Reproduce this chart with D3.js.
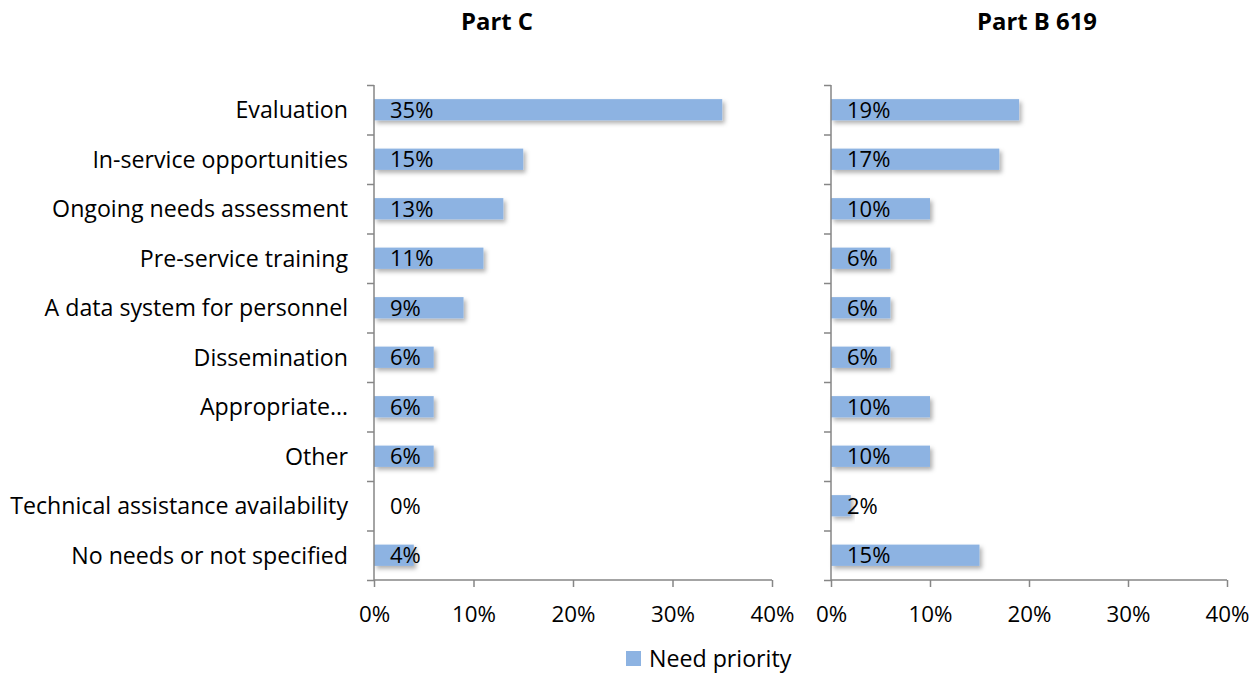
<!DOCTYPE html>
<html lang="en">
<head>
    <meta charset="UTF-8">
    <title>Need priority: Part C and Part B 619</title>
    <style>
        body { margin: 0; background: #fff; }
        svg text { font-family: "Open Sans", sans-serif; fill: #000; }
        .axis path, .axis line { stroke: #868686; stroke-width: 1.5; }
    </style>
</head>
<body>
    <div id="chart"></div>
    <script src="https://d3js.org/d3.v7.min.js"></script>
    <script>
        // categories, top to bottom
        const categories = [
            "Evaluation",
            "In-service opportunities",
            "Ongoing needs assessment",
            "Pre-service training",
            "A data system for personnel",
            "Dissemination",
            "Appropriate…",
            "Other",
            "Technical assistance availability",
            "No needs or not specified"
        ];
        // percent values
        const partC   = [35, 15, 13, 11, 9, 6, 6, 6, 0, 4];
        const partB619 = [19, 17, 10, 6, 6, 6, 10, 10, 2, 15];
        const xTicks = [0, 10, 20, 30, 40];
        const panelTitles = ["Part C", "Part B 619"];
        const legendLabel = "Need priority";

        const W = 1256, H = 673;
        const plotTop = 85, plotBottom = 580;
        const barColor = "#8db3e2";

        const svg = d3.select("#chart").append("svg")
            .attr("width", W).attr("height", H);

        // pick a font size so a sample string has the width it has in the picture
        function fitSize(sample, targetWidth, weight) {
            const t = svg.append("text").style("font-size", "20px")
                .style("font-weight", weight || "normal").text(sample);
            const w = t.node().getComputedTextLength();
            t.remove();
            return 20 * targetWidth / w;
        }
        const labelSize = fitSize("Technical assistance availability", 338);
        const valueSize = labelSize * 0.95;
        const tickSize = fitSize("40%", 44);
        const titleSize = fitSize("Part C", 72, "bold");

        svg.append("defs").append("filter")
            .attr("id", "shadow")
            .attr("x", "-10%").attr("y", "-30%")
            .attr("width", "130%").attr("height", "180%")
            .append("feDropShadow")
            .attr("dx", 2.5).attr("dy", 3)
            .attr("stdDeviation", 2.2)
            .attr("flood-color", "#000")
            .attr("flood-opacity", 0.3);

        const y = d3.scaleBand()
            .domain(categories)
            .range([plotTop, plotBottom])
            .paddingInner(0.57)
            .paddingOuter(0.285);

        // tick positions between the categories
        const yEdges = d3.scaleLinear().domain([0, categories.length]).range([plotTop, plotBottom]);

        const panels = [
            { title: panelTitles[0], values: partC, x0: 374, x1: 772, titleX: 497, labels: true },
            { title: panelTitles[1], values: partB619, x0: 831, x1: 1227, titleX: 1037, labels: false }
        ];

        panels.forEach(p => {
            const x = d3.scaleLinear().domain([0, 40]).range([p.x0, p.x1]);
            const g = svg.append("g");

            g.append("text")
                .attr("x", p.titleX).attr("y", 30)
                .attr("text-anchor", "middle")
                .style("font-size", titleSize + "px").style("font-weight", "bold")
                .text(p.title);

            // bars
            g.selectAll("rect.bar")
                .data(p.values.map((v, i) => ({ cat: categories[i], v })))
                .join("rect")
                .attr("class", "bar")
                .attr("x", x(0))
                .attr("y", d => y(d.cat))
                .attr("width", d => x(d.v) - x(0))
                .attr("height", y.bandwidth())
                .attr("fill", barColor)
                .attr("filter", "url(#shadow)");

            // data labels
            g.selectAll("text.val")
                .data(p.values.map((v, i) => ({ cat: categories[i], v })))
                .join("text")
                .attr("class", "val")
                .attr("x", x(0) + 16)
                .attr("y", d => y(d.cat) + y.bandwidth() / 2)
                .attr("dy", "0.36em")
                .style("font-size", valueSize + "px")
                .text(d => d.v + "%");

            // x axis
            g.append("g")
                .attr("class", "axis")
                .attr("transform", `translate(0,${plotBottom})`)
                .call(d3.axisBottom(x).tickValues(xTicks).tickSize(7).tickPadding(19)
                    .tickFormat(d => d + "%"))
                .call(a => a.select(".domain").attr("d", `M${p.x0},0H${p.x1}`))
                .call(a => a.selectAll("text").style("font-size", tickSize + "px")
                    .attr("font-family", null));

            // y axis, ticks at band edges
            g.append("g")
                .attr("class", "axis")
                .attr("transform", `translate(${p.x0},0)`)
                .call(d3.axisLeft(yEdges).tickValues(d3.range(categories.length + 1))
                    .tickSize(7).tickFormat(""))
                .call(a => a.select(".domain").attr("d", `M0,${plotTop}V${plotBottom}`));

            if (p.labels) {
                g.selectAll("text.cat")
                    .data(categories)
                    .join("text")
                    .attr("class", "cat")
                    .attr("x", 348)
                    .attr("y", d => y(d) + y.bandwidth() / 2)
                    .attr("dy", "0.36em")
                    .attr("text-anchor", "end")
                    .style("font-size", labelSize + "px")
                    .text(d => d);
            }
        });

        // legend
        const lg = svg.append("g").attr("transform", "translate(626,651)");
        lg.append("rect").attr("width", 15).attr("height", 15).attr("fill", barColor);
        lg.append("text").attr("x", 23).attr("y", 8).attr("dy", "0.36em")
            .style("font-size", labelSize + "px").text(legendLabel);
    </script>
</body>
</html>
